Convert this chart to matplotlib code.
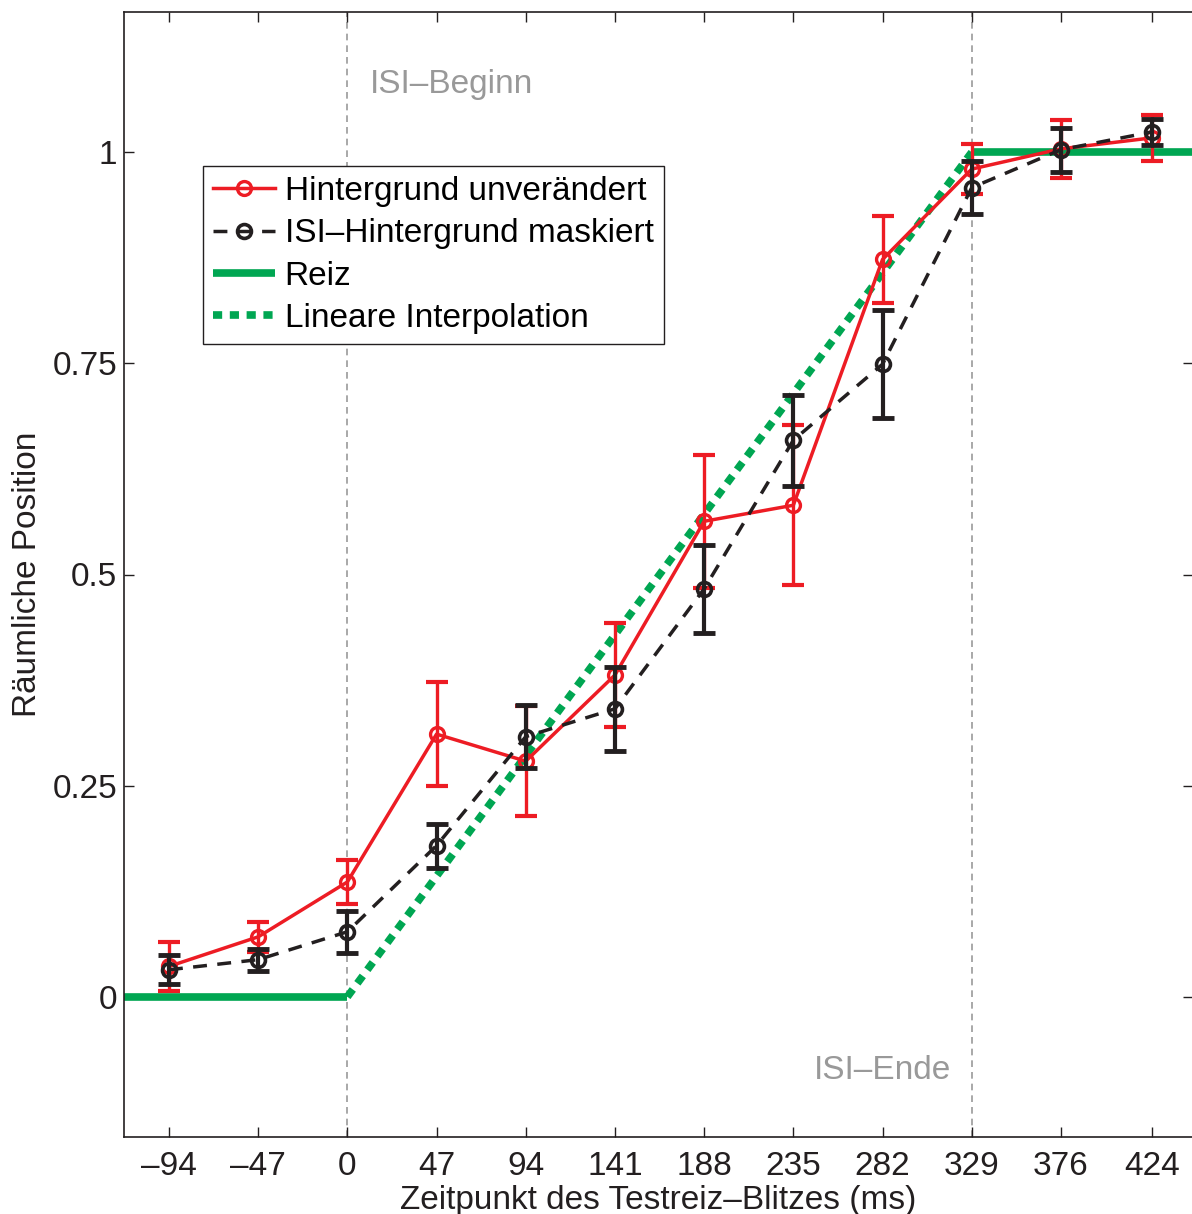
import matplotlib
matplotlib.use("Agg")
import matplotlib.pyplot as plt

plt.rcParams['font.family'] = ['Liberation Sans', 'DejaVu Sans']

# Testreiz-Zeitpunkte (ms)
zeit = [-94, -47, 0, 47, 94, 141, 188, 235, 282, 329, 376, 424]
tick_labels = ["–94", "–47", "0", "47", "94", "141", "188", "235", "282", "329", "376", "424"]

# Hintergrund unverändert
rot_mw = [0.036, 0.071, 0.136, 0.311, 0.279, 0.381, 0.563, 0.582, 0.873, 0.980, 1.004, 1.017]
rot_err = [0.029, 0.018, 0.026, 0.062, 0.065, 0.062, 0.079, 0.095, 0.051, 0.030, 0.034, 0.027]

# ISI-Hintergrund maskiert
schwarz_mw = [0.032, 0.044, 0.077, 0.179, 0.308, 0.341, 0.483, 0.659, 0.749, 0.958, 1.003, 1.024]
schwarz_err = [0.017, 0.013, 0.025, 0.026, 0.037, 0.050, 0.052, 0.054, 0.064, 0.031, 0.026, 0.015]

# Reiz und lineare Interpolation
isi_start, isi_ende = 0, 329
reiz_vor = [0, 0]
reiz_nach = [1, 1]

xmin, xmax = -117.7, 445.6

rot = (0.93, 0.11, 0.14)
gruen = (0.0, 0.65, 0.32)
grau = (0.6, 0.6, 0.6)
dunkel = '#231f20'
fs = 24

fig = plt.figure(figsize=(11.92, 12.14), dpi=100)
ax = fig.add_axes([124/1192, 1 - 1137/1214, (1193-124)/1192, (1137-12)/1214])

ax.axvline(isi_start, color=grau, ls=(0, (4, 3)), lw=1.2, zorder=1)
ax.axvline(isi_ende, color=grau, ls=(0, (4, 3)), lw=1.2, zorder=1)

ax.plot([xmin, isi_start], reiz_vor, color=gruen, lw=5.5, solid_capstyle='butt', zorder=2)
l_reiz, = ax.plot([isi_ende, xmax], reiz_nach, color=gruen, lw=5.5, solid_capstyle='butt',
                  zorder=2, label="Reiz")
l_int, = ax.plot([isi_start, isi_ende], [reiz_vor[1], reiz_nach[0]], color=gruen, lw=5.5,
                 ls=(0, (1.2, 1.0)), zorder=2, label="Lineare Interpolation")

ax.errorbar(zeit, rot_mw, yerr=rot_err, fmt='none', ecolor=rot, elinewidth=2.4,
            capsize=8, capthick=3, zorder=3)
l_rot, = ax.plot(zeit, rot_mw, color=rot, lw=2.5, marker='o', ms=10, mfc='none',
                 mec=rot, mew=2.4, zorder=4, label="Hintergrund unverändert")

ax.errorbar(zeit, schwarz_mw, yerr=schwarz_err, fmt='none', ecolor=dunkel,
            elinewidth=3, capsize=8, capthick=3.5, zorder=5)
l_sw, = ax.plot(zeit, schwarz_mw, color=dunkel, lw=2.5, ls=(0, (4, 3)), marker='o',
                ms=10, mfc='none', mec=dunkel, mew=2.6, zorder=6,
                label="ISI–Hintergrund maskiert")

ax.set_xlim(xmin, xmax)
ax.set_ylim(-0.166, 1.166)
ax.set_xticks(zeit)
ax.set_xticklabels(tick_labels)
ax.set_yticks([0, 0.25, 0.5, 0.75, 1])
ax.set_yticklabels(["0", "0.25", "0.5", "0.75", "1"])
ax.tick_params(direction='in', length=7, width=1, labelsize=fs, top=True, right=True,
               colors=dunkel)
ax.tick_params(axis='y', pad=5)
ax.tick_params(axis='x', pad=10)
for s in ax.spines.values():
    s.set_linewidth(1.2)
    s.set_color(dunkel)

ax.set_xlabel("Zeitpunkt des Testreiz–Blitzes (ms)", fontsize=fs, color=dunkel, labelpad=2)
ax.set_ylabel("Räumliche Position", fontsize=fs, color=dunkel, labelpad=7)

ax.text(12, 1.08, "ISI–Beginn", color=grau, fontsize=fs, ha='left', va='center')
ax.text(318, -0.087, "ISI–Ende", color=grau, fontsize=fs, ha='right', va='center')

leg = ax.legend(handles=[l_rot, l_sw, l_reiz, l_int], loc='upper left',
                bbox_to_anchor=((203-124)/1069, 1 - (166-12)/1125), fontsize=fs,
                frameon=True, fancybox=False, edgecolor=dunkel, framealpha=1,
                handlelength=1.85, handletextpad=0.3, borderpad=0.3, labelspacing=0.34,
                borderaxespad=0)
leg.get_frame().set_linewidth(1.0)

fig.savefig("out.png", dpi=100)
